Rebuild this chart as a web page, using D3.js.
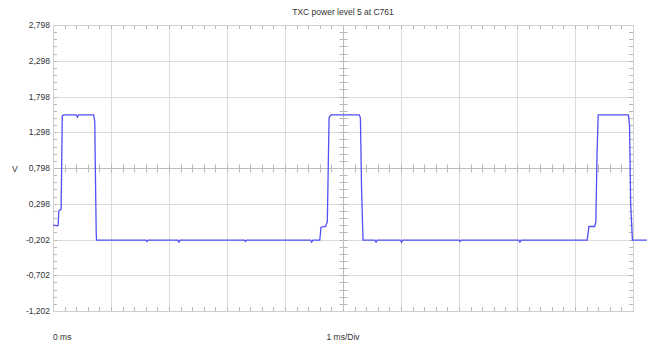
<!DOCTYPE html>
<html>
<head>
<meta charset="utf-8">
<script src="https://d3js.org/d3.v7.min.js"></script>
<style>
  body { margin: 0; background: #fff; }
  svg { display: block; }
  text { font-family: "Liberation Sans", Arial, sans-serif; fill: #333; }
  .grid line { stroke: #dcdcdc; stroke-width: 1; }
  .tick-minor { stroke: #b8b8b8; stroke-width: 1; }
</style>
</head>
<body>
<svg id="scope"></svg>
<script>
  // Trace samples: time in ms, level in volts
  const timeMs = [
    0, 0.08, 0.09, 0.10, 0.14, 0.16, 0.19, 0.40, 0.42, 0.44, 0.70, 0.72, 0.73, 0.745, 0.75,
    1.60, 1.62, 1.64, 2.15, 2.17, 2.19, 3.30, 3.32, 3.34, 4.44, 4.46, 4.48,
    4.60, 4.62, 4.70, 4.73, 4.76, 4.79, 5.28, 5.30, 5.32, 5.345,
    5.55, 5.57, 5.59, 5.99, 6.01, 6.03, 7.00, 7.02, 7.04, 8.03, 8.05, 8.07,
    9.21, 9.24, 9.34, 9.36, 9.38, 9.40, 9.92, 9.94, 9.96, 9.99, 10.24
  ];
  const volts = [
    0.00, -0.01, 0.00, 0.20, 0.22, 1.53, 1.54, 1.54, 1.51, 1.54, 1.54, 1.45, 0.80, -0.10, -0.21,
    -0.21, -0.23, -0.21, -0.21, -0.24, -0.21, -0.21, -0.23, -0.21, -0.21, -0.24, -0.21,
    -0.21, -0.03, -0.02, 0.05, 1.50, 1.54, 1.54, 1.50, 0.50, -0.21,
    -0.21, -0.24, -0.21, -0.21, -0.24, -0.21, -0.21, -0.23, -0.21, -0.21, -0.24, -0.21,
    -0.21, -0.02, -0.02, 0.05, 1.00, 1.54, 1.54, 1.40, 0.30, -0.21, -0.21
  ];

  const yTicks = [2.798, 2.298, 1.798, 1.298, 0.798, 0.298, -0.202, -0.702, -1.202];
  const yTickLabels = ["2,798", "2,298", "1,798", "1,298", "0,798", "0,298", "-0,202", "-0,702", "-1,202"];
  const xDivs = [0, 1, 2, 3, 4, 5, 6, 7, 8, 9, 10];
  const title = "TXC power level 5 at C761";

  const width = 650, height = 344;
  const pLeft = 53, pRight = 633, pTop = 25, pBottom = 311;

  const svg = d3.select("#scope").attr("width", width).attr("height", height);

  const x = d3.scaleLinear().domain([0, 10]).range([pLeft, pRight]);
  const y = d3.scaleLinear().domain([-1.202, 2.798]).range([pBottom, pTop]);

  // grid
  const grid = svg.append("g").attr("class", "grid");
  grid.selectAll(".vg").data(xDivs).enter().append("line")
    .attr("x1", d => Math.round(x(d)) + 0.5).attr("x2", d => Math.round(x(d)) + 0.5)
    .attr("y1", pTop).attr("y2", pBottom);
  grid.selectAll(".hg").data(yTicks).enter().append("line")
    .attr("x1", pLeft).attr("x2", pRight)
    .attr("y1", d => Math.round(y(d)) + 0.5).attr("y2", d => Math.round(y(d)) + 0.5);

  // minor ticks: 5 per division
  const xMinor = d3.range(0, 10.001, 0.2);
  const yMinor = d3.range(-1.202, 2.8, 0.1);
  const ticks = svg.append("g");
  const xc = Math.round(x(5)) + 0.5, yc = Math.round(y(0.798)) + 0.5;

  xMinor.forEach(t => {
    const px = Math.round(x(t)) + 0.5;
    ticks.append("line").attr("class", "tick-minor").attr("x1", px).attr("x2", px).attr("y1", pTop).attr("y2", pTop + 4);
    ticks.append("line").attr("class", "tick-minor").attr("x1", px).attr("x2", px).attr("y1", pBottom - 4).attr("y2", pBottom);
    ticks.append("line").attr("class", "tick-minor").attr("x1", px).attr("x2", px).attr("y1", yc - 4).attr("y2", yc + 4);
  });
  yMinor.forEach(v => {
    const py = Math.round(y(v)) + 0.5;
    ticks.append("line").attr("class", "tick-minor").attr("x1", pLeft).attr("x2", pLeft + 4).attr("y1", py).attr("y2", py);
    ticks.append("line").attr("class", "tick-minor").attr("x1", pRight - 4).attr("x2", pRight).attr("y1", py).attr("y2", py);
    ticks.append("line").attr("class", "tick-minor").attr("x1", xc - 4).attr("x2", xc + 4).attr("y1", py).attr("y2", py);
  });

  // center axes and frame
  svg.append("line").attr("x1", xc).attr("x2", xc).attr("y1", pTop).attr("y2", pBottom)
    .attr("stroke", "#bdbdbd");
  svg.append("line").attr("x1", pLeft).attr("x2", pRight).attr("y1", yc).attr("y2", yc)
    .attr("stroke", "#bdbdbd");
  svg.append("rect").attr("x", pLeft + 0.5).attr("y", pTop + 0.5)
    .attr("width", pRight - pLeft).attr("height", pBottom - pTop)
    .attr("fill", "none").attr("stroke", "#cfcfcf");

  // y labels
  svg.selectAll(".ylab").data(yTicks).enter().append("text")
    .attr("x", pLeft - 3).attr("y", d => y(d) + 3)
    .attr("text-anchor", "end").attr("font-size", "8.5px")
    .text((d, i) => yTickLabels[i]);

  svg.append("text").attr("x", 12).attr("y", yc + 3).attr("font-size", "8.5px").text("V");
  svg.append("text").attr("x", x(5)).attr("y", 15).attr("text-anchor", "middle")
    .attr("font-size", "8.5px").text(title);
  svg.append("text").attr("x", pLeft).attr("y", 340).attr("font-size", "8.5px").text("0 ms");
  svg.append("text").attr("x", x(5)).attr("y", 340).attr("text-anchor", "middle")
    .attr("font-size", "8.5px").text("1 ms/Div");

  // trace
  const line = d3.line().x(d => x(d[0])).y(d => y(d[1]));
  svg.append("path")
    .datum(timeMs.map((t, i) => [t, volts[i]]))
    .attr("d", line)
    .attr("fill", "none")
    .attr("stroke", "#5050f5")
    .attr("stroke-width", 1.3);
</script>
</body>
</html>
